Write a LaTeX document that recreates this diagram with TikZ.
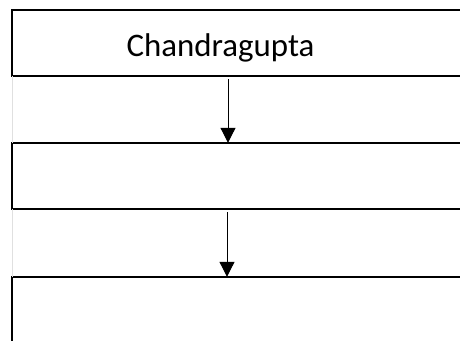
\documentclass[tikz,border=0pt]{standalone}
\usepackage{fontspec}
\setmainfont{Carlito}
\usetikzlibrary{arrows.meta}
\begin{document}
\begin{tikzpicture}[x=1bp,y=1bp,
  boxnode/.style={rectangle,minimum width=448bp,minimum height=66bp,inner sep=0pt,anchor=west},
  boxline/.style={draw=black,line width=2bp},
  arr/.style={draw=black,line width=1bp,-{Triangle[length=15bp,width=15bp]}},
  faint/.style={draw=black!12,line width=1bp},
  lbl/.style={font=\fontsize{33}{38}\selectfont,inner sep=0pt}]
\useasboundingbox (0,0) rectangle (460,340);
\fill[white] (0,0) rectangle (460,340);
\node[boxnode] (b1) at (12,297) {};
\node[boxnode] (b2) at (12,164) {};
\node[boxnode] (b3) at (12,30) {};
\foreach \b in {b1,b2,b3}{
  \draw[boxline] (\b.north east) -- (\b.north west) -- (\b.south west) -- (\b.south east);
}
\node[lbl] (t1) at (220.5,292) {Chandragupta};
\coordinate (ax1) at (228,0);
\coordinate (ax2) at (227,0);
\draw[faint] (b1.south west) -- (b2.north west);
\draw[faint] (b2.south west) -- (b3.north west);
\draw[arr] ([yshift=-3bp]b1.south -| ax1) -- (b2.north -| ax1);
\draw[arr] ([yshift=-3bp]b2.south -| ax2) -- (b3.north -| ax2);
\end{tikzpicture}
\end{document}
